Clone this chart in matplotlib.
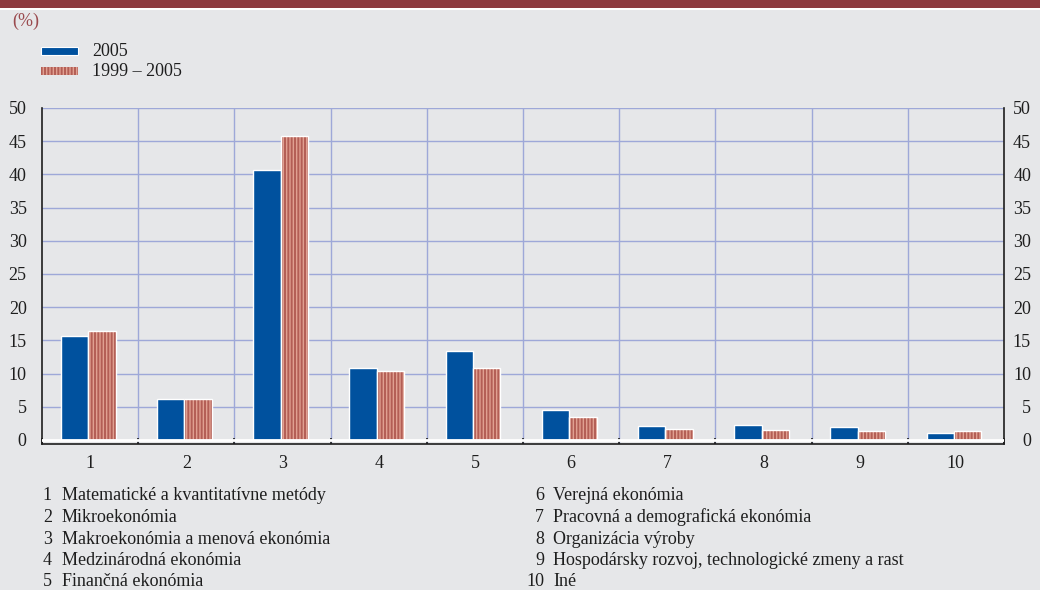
import matplotlib
matplotlib.use("Agg")
import matplotlib.pyplot as plt
from matplotlib.patches import Rectangle
from matplotlib.transforms import ScaledTranslation
import numpy as np

categories = ["1", "2", "3", "4", "5", "6", "7", "8", "9", "10"]
share_2005 = [15.7, 6.2, 40.7, 10.8, 13.4, 4.5, 2.1, 2.3, 2.0, 1.1]
share_1999_2005 = [16.4, 6.2, 45.8, 10.4, 10.9, 3.4, 1.7, 1.5, 1.4, 1.3]
series_labels = ["2005", "1999 – 2005"]
y_ticks = [0, 5, 10, 15, 20, 25, 30, 35, 40, 45, 50]
field_names = [
    "Matematické a kvantitatívne metódy",
    "Mikroekonómia",
    "Makroekonómia a menová ekonómia",
    "Medzinárodná ekonómia",
    "Finančná ekonómia",
    "Verejná ekonómia",
    "Pracovná a demografická ekonómia",
    "Organizácia výroby",
    "Hospodársky rozvoj, technologické zmeny a rast",
    "Iné",
]

BG = "#e6e7e9"
BLUE = "#00519e"
SALMON = "#e0a091"
STRIPE = "#b35e55"
GRID = "#9ea8d8"
BAND = "#8d3a3f"
INK = "#1e1e1e"
FS = 13

plt.rcParams["font.family"] = ["Liberation Serif", "DejaVu Serif"]
plt.rcParams["hatch.linewidth"] = 1.4

W, H = 1040, 590
fig = plt.figure(figsize=(W / 100, H / 100), dpi=100, facecolor=BG)

# top band
fig.add_artist(Rectangle((0, 1 - 8 / H), 1, 8 / H, transform=fig.transFigure,
                         facecolor=BAND, edgecolor="none"))
fig.add_artist(Rectangle((0, 1 - 10 / H), 1, 2 / H, transform=fig.transFigure,
                         facecolor="white", edgecolor="none"))
fig.text(12 / W, 1 - 21 / H, "(%)", color="#9a4a4e", fontsize=FS, va="center")

# axes: x 42..1004 px, y value 50 at 108 px, 0 at 440 px
y_bottom = -0.6
ppu = (440 - 108) / 50.0
ax_top = 108
ax_bot = 440 + (-y_bottom) * ppu
ax = fig.add_axes([42 / W, 1 - ax_bot / H, (1004 - 42) / W, (ax_bot - ax_top) / H])
ax.set_facecolor(BG)
ax.set_xlim(0.5, len(categories) + 0.5)
ax.set_ylim(y_bottom, 50)

for y in y_ticks[1:]:
    ax.axhline(y, color=GRID, lw=1.0, zorder=1)
for xb in np.arange(1.5, len(categories), 1.0):
    ax.axvline(xb, color=GRID, lw=1.0, zorder=1)
ax.axhline(0, color="white", lw=2.0, zorder=4)

x = np.arange(1, len(categories) + 1)
bw = 0.285
ax.bar(x - bw / 2 - 0.02, share_2005, bw, color=BLUE, edgecolor="white", lw=1.0, zorder=3)
ax.bar(x + bw / 2 - 0.02, share_1999_2005, bw, color=SALMON, edgecolor=STRIPE, lw=0,
       hatch="|||||", zorder=3)
ax.bar(x + bw / 2 - 0.02, share_1999_2005, bw, fill=False, edgecolor="white", lw=1.0, zorder=3)

ax.spines["top"].set_visible(False)
for side in ["left", "right", "bottom"]:
    ax.spines[side].set_color(INK)
    ax.spines[side].set_linewidth(1.2)

# y labels on both sides, right-hand ones right-aligned
ax.set_yticks(y_ticks)
ax.tick_params(axis="y", length=0, labelsize=FS, labelright=True, pad=11, labelcolor=INK)
shift = ScaledTranslation(27 / 100, 0, fig.dpi_scale_trans)
for t in ax.yaxis.get_major_ticks():
    t.label2.set_horizontalalignment("right")
    t.label2.set_transform(ax.get_yaxis_transform() + shift)

# category boundary ticks and centred category labels
ax.set_xticks(np.arange(0.5, len(categories) + 1.0, 1.0))
ax.set_xticklabels([])
ax.tick_params(axis="x", which="major", direction="in", length=4, width=1.2, color=INK)
ax.set_xticks(x, minor=True)
ax.set_xticklabels(categories, minor=True)
ax.tick_params(axis="x", which="minor", length=0, labelsize=FS, pad=8, labelcolor=INK)

# series legend
for i, lab in enumerate(series_labels):
    yc = 1 - (51 + i * 20) / H
    if i == 0:
        fig.add_artist(Rectangle((41 / W, yc - 4 / H), 37 / W, 8 / H, transform=fig.transFigure,
                                 facecolor=BLUE, edgecolor="white", lw=0.8))
    else:
        fig.add_artist(Rectangle((41 / W, yc - 4 / H), 37 / W, 8 / H, transform=fig.transFigure,
                                 facecolor=SALMON, edgecolor=STRIPE, lw=0, hatch="|||||"))
    fig.text(92 / W, yc, lab, fontsize=FS, va="center", color=INK)

# category key
for i, name in enumerate(field_names):
    col, row = divmod(i, 5)
    yc = 1 - (496 + row * 21.5) / H
    nx = 52 if col == 0 else 544
    tx = 62 if col == 0 else 553
    fig.text(nx / W, yc, categories[i], fontsize=FS, va="center", ha="right", color=INK)
    fig.text(tx / W, yc, name, fontsize=FS, va="center", ha="left", color=INK)

fig.savefig("out.png", dpi=100, facecolor=BG)
